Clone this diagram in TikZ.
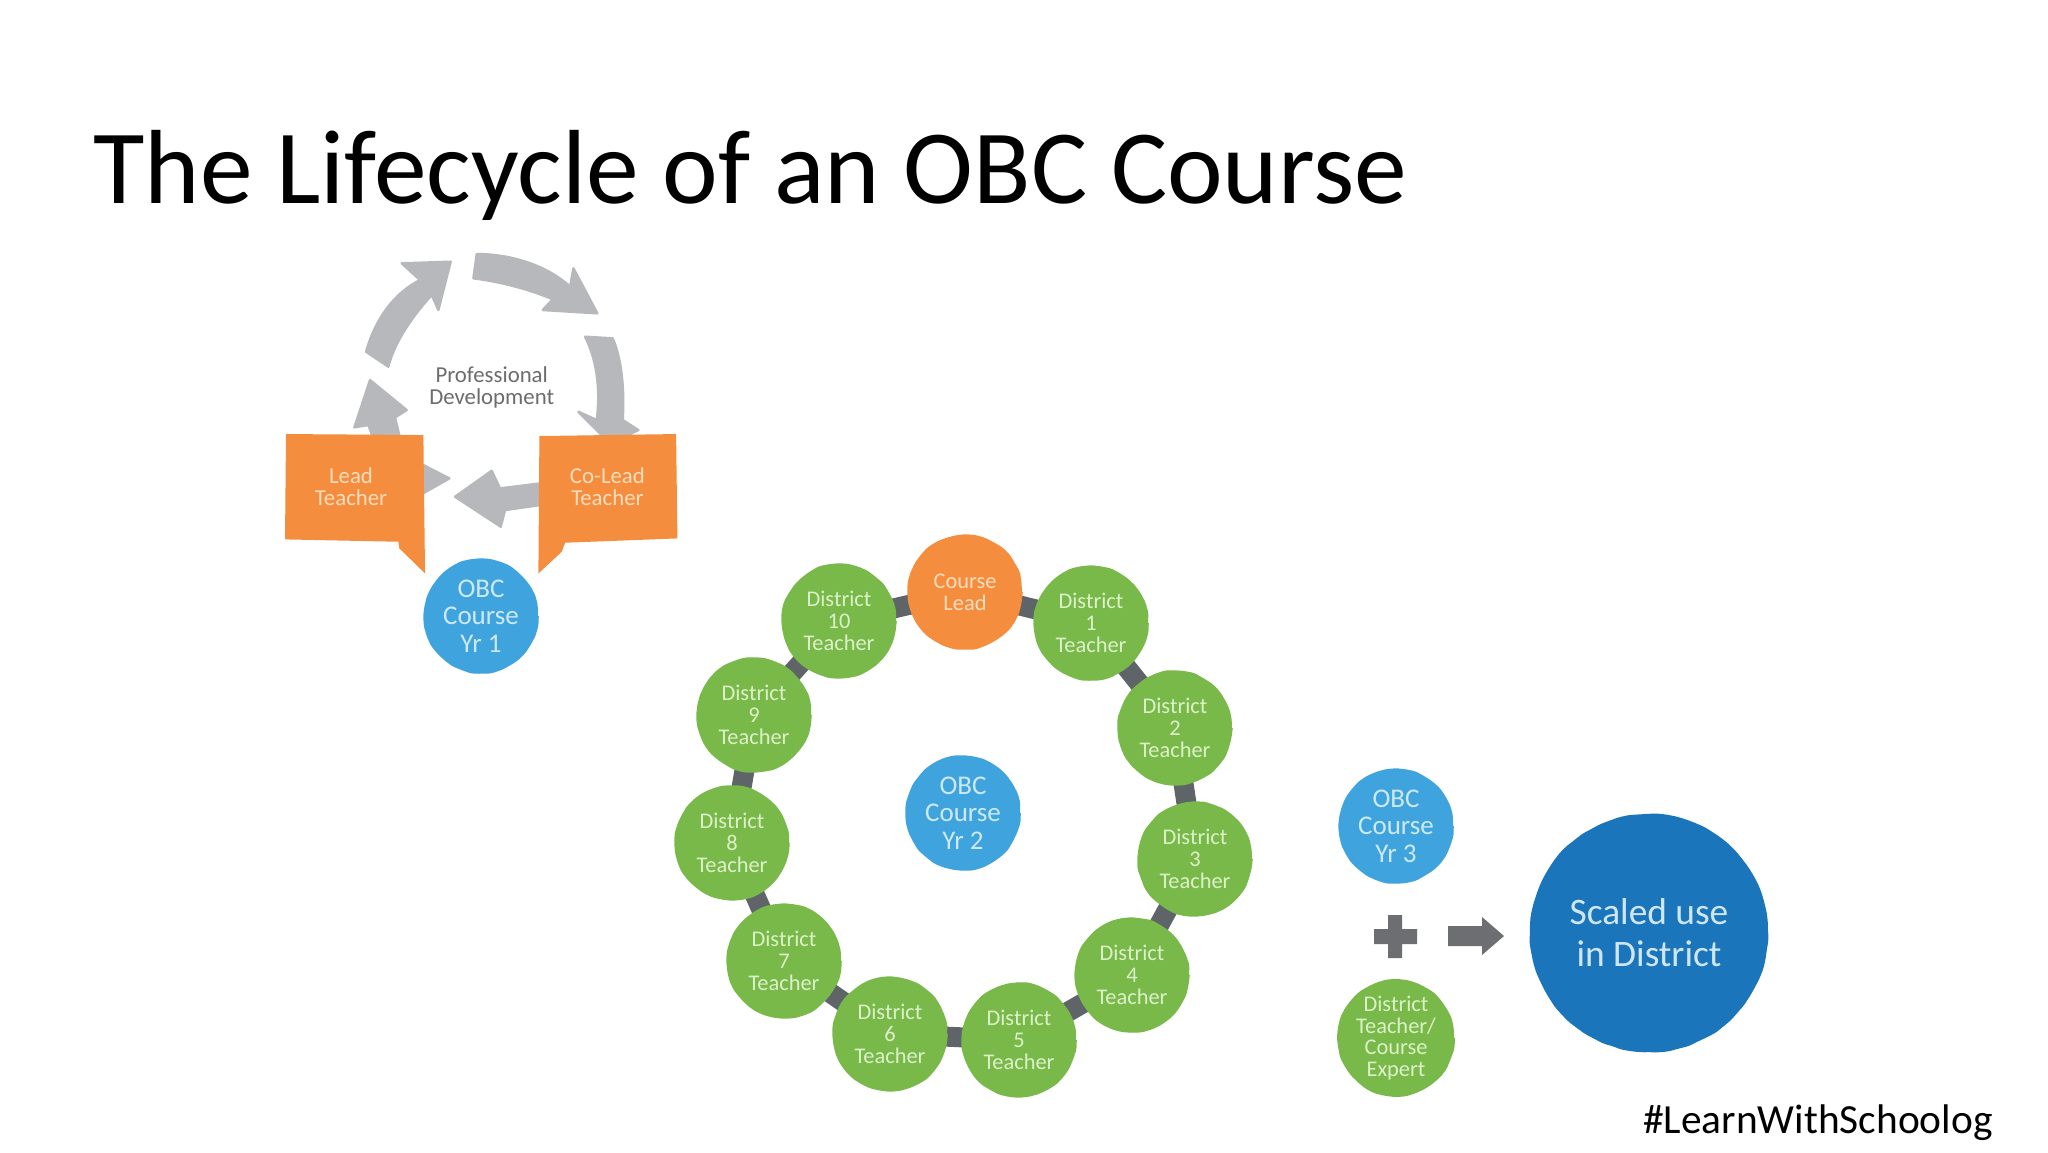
\documentclass[tikz,border=0pt]{standalone}
\usepackage{fontspec}
\setmainfont{Carlito}
\usetikzlibrary{backgrounds,decorations.pathmorphing}
\definecolor{cgreen}{HTML}{78B94A}
\definecolor{corange}{HTML}{F58D3E}
\definecolor{cblue}{HTML}{3FA4DE}
\definecolor{cdeep}{HTML}{1B75BB}
\definecolor{carrow}{HTML}{B7B8BB}
\definecolor{cdark}{HTML}{5F6468}
\definecolor{cmark}{HTML}{6D6E71}
\definecolor{tgreen}{HTML}{DDF1C8}
\definecolor{torange}{HTML}{FBDDBD}
\definecolor{tblue}{HTML}{CDE9F8}
\definecolor{tdeep}{HTML}{CFE6F5}
\tikzset{
  ball/.style={circle,minimum size=57pt,inner sep=0pt,align=center,
    decorate,decoration={random steps,segment length=5pt,amplitude=0.25pt},rounded corners=1pt},
  district/.style={ball,fill=cgreen,text=tgreen,font=\fontsize{11.2}{10.9}\selectfont},
  leadball/.style={ball,fill=corange,text=torange,font=\fontsize{11.2}{10.9}\selectfont},
  course/.style={ball,fill=cblue,text=tblue,font=\fontsize{13.5}{13.7}\selectfont},
  scaled/.style={ball,minimum size=119pt,fill=cdeep,text=tdeep,font=\fontsize{18.7}{21}\selectfont},
  link/.style={draw=cdark,line width=10pt},
  cyclearrow/.style={fill=carrow,draw=carrow,line width=1.2pt,line join=round},
  bubble/.style={fill=corange,draw=none},
  bubbletext/.style={text=torange,align=center,font=\fontsize{11.4}{10.9}\selectfont},
}
\begin{document}
\begin{tikzpicture}[x=0.5pt,y=-0.5pt]
\pgfmathsetseed{7}
\useasboundingbox (0,0) rectangle (2048,1152);
\begin{pgfonlayer}{background}
\fill[white] (0,0) rectangle (2048,1152);
\end{pgfonlayer}
\node[anchor=base west,inner sep=0pt,font=\fontsize{52.7}{60}\selectfont] (title) at (93,203) {The Lifecycle of an OBC Course};
\node[anchor=base east,inner sep=0pt,font=\fontsize{20.7}{24}\selectfont] (tag) at (1993,1133) {\#LearnWithSchoolog};
% cycle, in zoomed coordinates
\begin{scope}[shift={(260,230)},x=0.1667pt,y=-0.1667pt]
\path[cyclearrow] (318,365) .. controls (345,270) and (400,190) .. (480,150) -- (425,100) -- (572,95) -- (535,240) -- (515,195) .. controls (465,250) and (405,330) .. (385,410) -- cycle;
\path[cyclearrow] (650,72) .. controls (750,72) and (860,105) .. (930,170) -- (940,115) -- (1012,250) -- (848,240) -- (878,208) .. controls (810,178) and (720,155) .. (640,145) -- cycle;
\path[cyclearrow] (975,320) -- (1058,325) .. controls (1090,400) and (1092,500) .. (1088,570) -- (1135,600) -- (1050,640) -- (955,545) -- (1010,570) .. controls (1020,490) and (1015,400) .. (975,320) -- cycle;
\path[cyclearrow] (585,800) -- (695,722) -- (720,775) -- (840,760) -- (840,825) -- (735,840) -- (722,890) -- cycle;
\path[cyclearrow] (330,450) -- (440,540) -- (405,562) -- (420,625) -- (340,625) -- (325,585) -- (283,592) -- cycle;
\path[cyclearrow] (480,700) -- (568,745) -- (480,795) -- cycle;
\fill[bubble] (78,612) -- (490,615) -- (495,1030) -- (418,955) -- (415,935) -- (75,928) -- cycle;
\fill[bubble] (838,618) -- (1248,612) -- (1252,925) -- (915,938) -- (905,965) -- (835,1030) -- cycle;
\node[text=gray!85!black,align=center,font=\fontsize{11.4}{11}\selectfont] (pd) at (695,473) {Professional\\Development};
\node[bubbletext] (lead) at (273,770) {Lead\\Teacher};
\node[bubbletext] (colead) at (1042,770) {Co-Lead\\Teacher};
\end{scope}
\node[course] (yr1) at (481,616) {OBC\\Course\\Yr 1};
% ring
\node[leadball] (cl) at (965,592) {Course\\Lead};
\node[district] (d1) at (1091,623) {District\\1\\Teacher};
\node[district] (d2) at (1175,728) {District\\2\\Teacher};
\node[district] (d3) at (1195,859) {District\\3\\Teacher};
\node[district] (d4) at (1132,975) {District\\4\\Teacher};
\node[district] (d5) at (1019,1040) {District\\5\\Teacher};
\node[district] (d6) at (890,1034) {District\\6\\Teacher};
\node[district] (d7) at (784,961) {District\\7\\Teacher};
\node[district] (d8) at (732,843) {District\\8\\Teacher};
\node[district] (d9) at (754,715) {District\\9\\Teacher};
\node[district] (d10) at (839,621) {District\\10\\Teacher};
\node[course] (yr2) at (963,813) {OBC\\Course\\Yr 2};
\begin{pgfonlayer}{background}
\foreach \a/\b in {cl/d1,d1/d2,d2/d3,d3/d4,d4/d5,d5/d6,d6/d7,d7/d8,d8/d9,d9/d10,d10/cl}
  \draw[link] (\a.center) -- (\b.center);
\end{pgfonlayer}
\node[course] (yr3) at (1396,826) {OBC\\Course\\Yr 3};
\node[district] (expert) at (1396,1038) {District\\Teacher/\\Course\\Expert};
\node[scaled] (use) at (1649,933) {Scaled use\\in District};
% plus and arrow
\fill[cmark] (1388,915) -- (1402,915) -- (1402,929) -- (1417,929) -- (1417,944) -- (1402,944) -- (1402,958) -- (1388,958) -- (1388,944) -- (1374,944) -- (1374,929) -- (1388,929) -- cycle;
\fill[cmark] (1448,926) -- (1482,926) -- (1482,917) -- (1504,936) -- (1482,955) -- (1482,946) -- (1448,946) -- cycle;
\end{tikzpicture}
\end{document}
